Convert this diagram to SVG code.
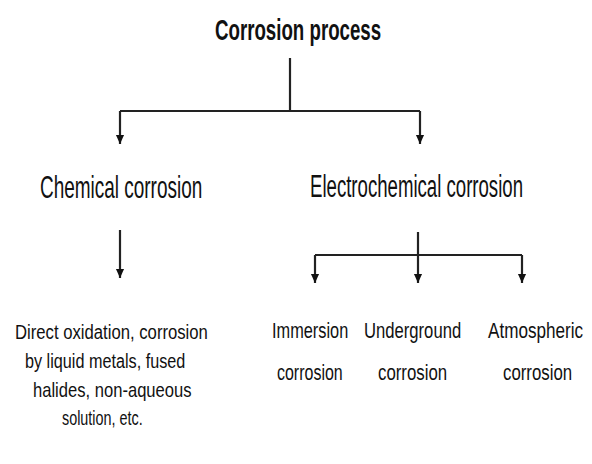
<svg xmlns="http://www.w3.org/2000/svg" width="592" height="464" viewBox="0 0 592 464">
<defs>
<style>
text{font-family:"Liberation Sans",Arial,sans-serif;fill:#111}
.t{font-size:30px;font-weight:bold}
.m{font-size:31px}
.s{font-size:20px}
.r{font-size:22px}
.c{stroke:#222;stroke-width:2.2;fill:none}
</style>
<marker id="a" markerUnits="userSpaceOnUse" markerWidth="9" markerHeight="11" refX="10" refY="4.5" orient="auto" viewBox="0 0 10 9">
<path d="M0,0 L10,4.5 L0,9 Z" fill="#111"/>
</marker>
</defs>
<rect width="592" height="464" fill="#fff"/>
<g id="connectors">
<path class="c" d="M290,58 V111"/>
<path class="c" d="M120,111 H420"/>
<path class="c" d="M120,111 V144" marker-end="url(#a)"/>
<path class="c" d="M420,111 V144" marker-end="url(#a)"/>
<path class="c" d="M120,230 V278" marker-end="url(#a)"/>
<path class="c" d="M418,232 V255"/>
<path class="c" d="M315,255 H522"/>
<path class="c" d="M315,255 V283" marker-end="url(#a)"/>
<path class="c" d="M418,255 V283" marker-end="url(#a)"/>
<path class="c" d="M522,255 V283" marker-end="url(#a)"/>
</g>
<g id="root"><text class="t" transform="translate(215,40) scale(0.62,1)" textLength="268" lengthAdjust="spacingAndGlyphs">Corrosion process</text></g>
<g id="chemical"><text class="m" transform="translate(40,198) scale(0.61,1)" textLength="266" lengthAdjust="spacingAndGlyphs">Chemical corrosion</text></g>
<g id="electrochemical"><text class="m" transform="translate(310,197) scale(0.6,1)" textLength="355" lengthAdjust="spacingAndGlyphs">Electrochemical corrosion</text></g>
<g id="chemical-types">
<text class="s" transform="translate(15,339) scale(0.835,1)" textLength="231" lengthAdjust="spacingAndGlyphs">Direct oxidation, corrosion</text>
<text class="s" transform="translate(25,368) scale(0.81,1)" textLength="198" lengthAdjust="spacingAndGlyphs">by liquid metals, fused</text>
<text class="s" transform="translate(33,397) scale(0.83,1)" textLength="191" lengthAdjust="spacingAndGlyphs">halides, non-aqueous</text>
<text class="s" transform="translate(62,425) scale(0.72,1)" textLength="112" lengthAdjust="spacingAndGlyphs">solution, etc.</text>
</g>
<g id="immersion">
<text class="r" transform="translate(272,338) scale(0.74,1)" textLength="103" lengthAdjust="spacingAndGlyphs">Immersion</text>
<text class="r" transform="translate(277,380) scale(0.73,1)" textLength="90" lengthAdjust="spacingAndGlyphs">corrosion</text>
</g>
<g id="underground">
<text class="r" transform="translate(364,338) scale(0.765,1)" textLength="127" lengthAdjust="spacingAndGlyphs">Underground</text>
<text class="r" transform="translate(378,380) scale(0.76,1)" textLength="91" lengthAdjust="spacingAndGlyphs">corrosion</text>
</g>
<g id="atmospheric">
<text class="r" transform="translate(488,338) scale(0.78,1)" textLength="122" lengthAdjust="spacingAndGlyphs">Atmospheric</text>
<text class="r" transform="translate(503,380) scale(0.76,1)" textLength="91" lengthAdjust="spacingAndGlyphs">corrosion</text>
</g>
</svg>
